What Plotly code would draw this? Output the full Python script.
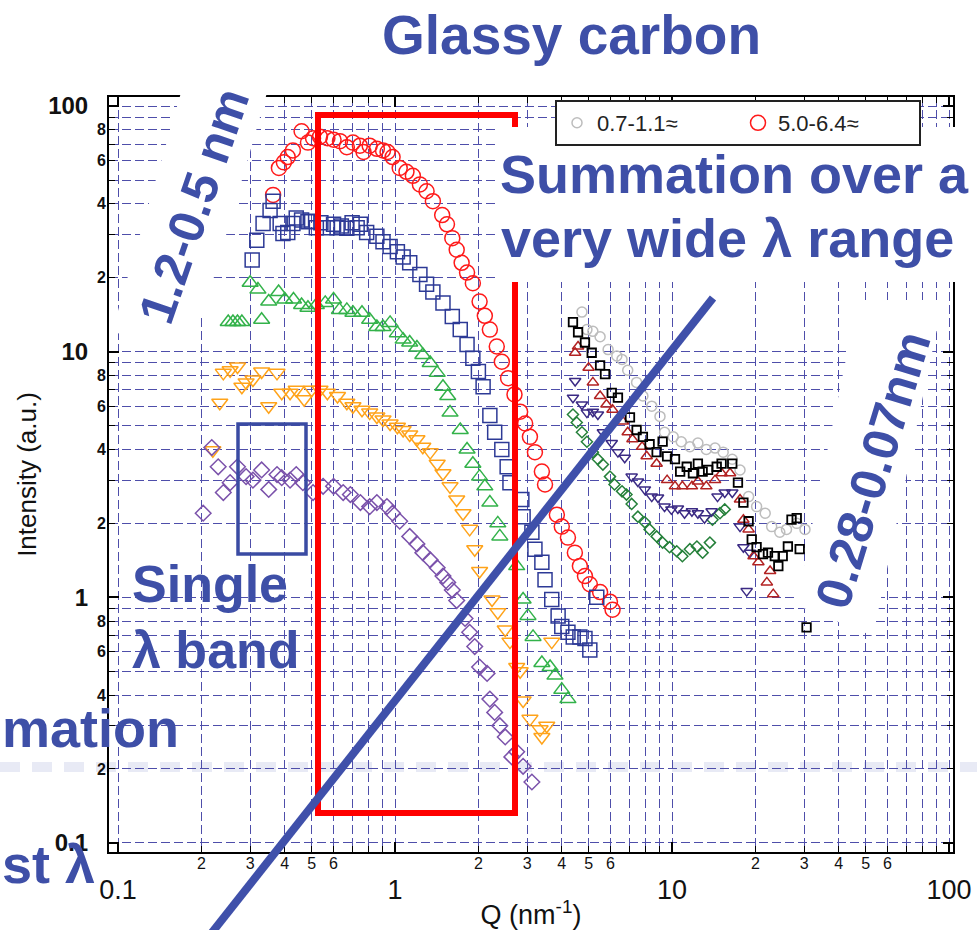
import plotly.graph_objects as go

# ---------------- data (Q in nm^-1, intensity in a.u.) ----------------
q_red = [0.363,0.381,0.397,0.41,0.428,0.46,0.485,0.506,0.536,0.57,0.6,0.633,0.67,0.705,0.747,0.77,0.81,0.86,0.905,0.94,0.98,1.04,1.1,1.16,1.23,1.3,1.37,1.48,1.54,1.61,1.67,1.74,1.82,1.91,2.02,2.11,2.2,2.33,2.43,2.56,2.7,2.83,2.95,3.07,3.2,3.39,3.48,3.84,4.0,4.21,4.46,4.65,4.85,5.05,5.5,5.97,6.1]
i_red = [43.5,56,59,62,66,79,71,74,75,74,73,72,68,71,69,65,69,67,66,65,62,56,54,52,48,45,41,36,33,29,26,23,21,19,16,14,12.3,10.5,9.1,7.8,6.7,5.7,5.1,4.5,3.9,3.25,2.88,2.17,1.94,1.75,1.52,1.34,1.22,1.13,1.05,0.96,0.89]

q_blue = [0.305,0.317,0.334,0.354,0.363,0.385,0.394,0.41,0.428,0.44,0.46,0.485,0.5,0.52,0.54,0.57,0.6,0.618,0.64,0.67,0.7,0.73,0.75,0.79,0.86,0.905,0.96,1.02,1.07,1.13,1.23,1.3,1.37,1.49,1.61,1.72,1.82,1.91,2.0,2.08,2.2,2.29,2.43,2.54,2.6,2.87,2.9,3.12,3.2,3.39,3.48,3.68,3.88,4.0,4.21,4.4,4.65,4.85,5.05,5.35]
i_blue = [23.6,28.4,33.3,37.6,41,33.3,30.3,30.6,33.3,35,34.4,33.8,34,32,33.5,32,33,32,32.5,31.8,33.5,32,33,30.6,29.5,28,26.8,25.5,24.3,23,20.6,18.8,17.5,15.8,13.9,12.3,10.7,9.4,8.3,7.2,5.5,4.7,4.0,3.4,2.93,2.5,2.13,1.84,1.57,1.39,1.18,0.98,0.84,0.76,0.72,0.69,0.69,0.68,0.61,1.0]

q_green = [0.25,0.26,0.27,0.28,0.30,0.32,0.33,0.35,0.38,0.40,0.43,0.46,0.485,0.52,0.56,0.6,0.63,0.67,0.705,0.76,0.81,0.86,0.905,0.96,1.02,1.07,1.13,1.2,1.26,1.34,1.42,1.49,1.55,1.58,1.72,1.82,1.91,2.02,2.11,2.2,2.35,2.39,2.75,2.9,3.02,3.15,3.39,3.63,3.78,4.0,4.21]
i_green = [13.2,13.2,13.2,13.2,19.1,17.9,13.5,16,17.5,16.3,16.3,15.5,15.1,15.5,15.8,16.3,14.8,14.8,14.4,14.4,13.5,12.6,12.6,13.1,11.9,11.2,10.9,10.4,9.7,9.0,8.2,7.2,6.6,5.65,4.8,4.0,3.5,3.1,2.83,2.43,2.0,1.77,1.34,0.98,0.84,0.69,0.54,0.52,0.48,0.42,0.385]

q_orange = [0.22,0.233,0.24,0.254,0.27,0.28,0.29,0.307,0.33,0.35,0.375,0.39,0.418,0.44,0.47,0.5,0.536,0.57,0.62,0.67,0.705,0.76,0.81,0.86,0.905,0.96,1.02,1.07,1.13,1.2,1.26,1.34,1.42,1.49,1.58,1.67,1.76,1.86,1.94,2.02,2.24,2.35,2.5,2.6,2.75,2.83,2.9,3.07,3.34,3.53,3.39,3.68]
i_orange = [3.97,6.2,8.2,8.4,8.7,7.2,7.5,7.7,8.3,6.0,8.2,6.8,6.8,7.0,6.4,7.0,7.0,6.8,6.6,6.2,6.0,5.8,5.65,5.45,5.3,5.1,4.95,4.8,4.6,4.4,4.1,3.9,3.5,3.2,2.83,2.5,2.2,1.9,1.57,1.28,0.98,0.87,0.74,0.66,0.52,0.5,0.38,0.32,0.29,0.3,0.27,0.66]

q_purple = [0.203,0.218,0.23,0.24,0.254,0.27,0.29,0.307,0.33,0.35,0.375,0.39,0.418,0.44,0.465,0.506,0.55,0.6,0.65,0.69,0.75,0.81,0.86,0.935,0.98,1.04,1.13,1.2,1.26,1.34,1.42,1.49,1.55,1.61,1.67,1.79,1.86,1.94,2.02,2.15,2.2,2.29,2.39,2.5,2.64,2.75,2.9,3.12]
i_purple = [2.2,4.07,3.4,2.67,2.93,3.4,3.1,3.0,3.3,2.75,3.16,3.07,3.0,3.16,2.93,2.67,2.83,2.83,2.67,2.62,2.43,2.34,2.43,2.34,2.2,2.04,1.77,1.65,1.52,1.42,1.32,1.22,1.15,1.07,0.97,0.82,0.72,0.63,0.52,0.49,0.385,0.34,0.3,0.27,0.224,0.235,0.205,0.177]

q_gray = [4.73,4.93,5.18,5.5,5.88,6.32,6.6,6.92,7.45,7.85,8.45,9.05,9.4,10.1,10.8,11.6,12.4,13.3,14.3,15.3,16.5,17.6,18.9,20.2,21.7,22.9,24.5,25.9,28.2,30.2]
i_gray = [14.5,12.3,12.1,11.5,10.2,9.6,9.3,8.4,7.5,6.6,6.0,5.45,4.7,4.5,4.3,4.1,4.25,4.0,4.05,3.9,3.65,3.3,2.57,2.34,2.2,1.94,1.84,1.89,2.0,1.89]

q_black = [4.39,4.58,4.85,5.13,5.5,5.73,6.06,6.38,7.05,7.45,7.85,8.3,8.8,9.25,9.6,10.25,10.7,11.3,11.9,12.4,12.9,13.5,14.5,15.1,16.5,17.3,18.1,18.9,19.4,20.2,21.3,22.2,23.5,24.2,25.1,26.2,27.0,28.2,28.9,30.6]
i_black = [13.2,12.0,10.9,9.9,8.8,8.1,6.8,6.5,5.4,4.8,4.5,4.2,3.9,4.3,3.75,3.65,3.25,3.4,3.2,3.5,3.25,3.3,3.4,3.5,3.5,2.93,2.43,2.04,1.72,1.6,1.5,1.52,1.47,1.34,1.47,1.61,2.07,2.1,1.57,0.755]

q_darkred = [4.47,4.58,5.0,5.18,5.5,5.8,6.1,6.65,6.92,7.2,7.8,8.1,8.8,9.6,10.25,10.9,11.8,12.4,13.3,14.3,15.1,16.2,17.6,18.1,18.9,19.7,20.5,22.0,22.6,23.2]
i_darkred = [9.9,10.5,8.6,7.5,6.6,6.1,5.8,5.2,4.7,4.4,4.1,3.75,3.5,3.0,2.83,2.83,2.83,2.96,2.83,3.0,3.2,3.2,2.5,2.07,1.89,1.47,1.39,1.15,1.28,1.03]

q_navy = [4.39,4.47,4.73,4.93,5.18,5.4,5.63,6.06,6.38,6.75,7.15,7.53,7.98,8.45,8.9,9.4,9.95,10.5,11.1,11.8,12.4,13.1,13.9,14.6,15.5,16.5,17.6,18.1,18.6,19.1]
i_navy = [6.5,7.6,6.1,5.65,5.7,5.55,4.7,4.25,3.9,3.7,3.1,2.96,2.75,2.57,2.55,2.34,2.28,2.3,2.2,2.24,2.2,2.1,2.24,2.57,2.67,2.67,1.94,1.6,1.06,1.52]

q_dgreen = [4.39,4.53,4.73,4.93,5.18,5.4,5.63,5.97,6.2,6.6,6.85,7.15,7.53,7.98,8.3,8.8,9.25,9.8,10.4,10.9,11.6,12.3,12.9,13.7,14.0,14.9,15.5]
i_dgreen = [5.55,5.15,4.7,4.3,3.9,3.65,3.47,3.1,2.88,2.7,2.62,2.4,2.13,2.02,1.89,1.77,1.67,1.6,1.54,1.47,1.57,1.61,1.52,1.67,2.07,2.2,2.28]

legend_names = ["0.7-1.1≈", "5.0-6.4≈"]

x_major = [0.1, 1, 10, 100]
x_major_text = ["0.1", "1", "10", "100"]
x_minor_labeled = [m * d for d in (0.1, 1, 10) for m in (2, 3, 4, 5, 6)]
x_minor_text = [str(m) for d in (0.1, 1, 10) for m in (2, 3, 4, 5, 6)]
y_major = [0.1, 1, 10, 100]
y_major_text = ["0.1", "1", "10", "100"]
y_minor_labeled = [m * d for d in (0.1, 1, 10) for m in (2, 4, 6, 8)]
y_minor_text = [str(m) for d in (0.1, 1, 10) for m in (2, 4, 6, 8)]
minor_all = [m * d for d in (0.1, 1, 10) for m in range(2, 10)]

# ---------------- geometry helpers (pixel -> paper) ----------------
W, H = 977, 930
L, R, T, B = 109, 953, 97, 852
def px(x):
    return (x - L) / (R - L)
def py(y):
    return (B - y) / (B - T)

FONT = "Liberation Sans, Arial, sans-serif"
SLIDE_BLUE = "#3e4fa7"
GRID = "#4e4eaa"

fig = go.Figure()

def add(q, i, name, sym, color, size, width=1.5, show=False):
    fig.add_trace(go.Scatter(
        x=q, y=i, mode="markers", name=name, showlegend=show,
        marker=dict(symbol=sym, size=size, color=color, line=dict(color=color, width=width)),
    ))

add(q_gray, i_gray, legend_names[0], "circle-open", "#bdbdbd", 10, show=True)
add(q_red, i_red, legend_names[1], "circle-open", "#ff1a1a", 15, show=True)
add(q_blue, i_blue, "blue squares", "square-open", "#2d3a96", 14)
add(q_green, i_green, "green triangles", "triangle-up-open", "#33b24a", 14)
add(q_orange, i_orange, "orange triangles", "triangle-down-open", "#ffa31a", 14)
add(q_purple, i_purple, "purple diamonds", "diamond-open", "#7b52ab", 12)
add(q_dgreen, i_dgreen, "dark green diamonds", "diamond-open", "#25803a", 8.5)
add(q_navy, i_navy, "navy triangles", "triangle-down-open", "#3b2a84", 10)
add(q_darkred, i_darkred, "dark red triangles", "triangle-up-open", "#b22222", 10)
add(q_black, i_black, "black squares", "square-open", "#000000", 8.5, width=1.8)

# helper trace for the overlaid label axes
fig.add_trace(go.Scatter(x=[None], y=[None], xaxis="x2", yaxis="y2",
                         showlegend=False, hoverinfo="skip"))

xr = [-1.0325, 2.0144]
yr = [-1.037, 2.037]

axis_common = dict(
    type="log", automargin=False, showline=True, linecolor="black", linewidth=2, mirror="ticks",
    ticks="inside", ticklen=10, tickwidth=1.5, tickcolor="black",
    showgrid=True, gridcolor=GRID, gridwidth=1.2, griddash="9px,4px", zeroline=False,
    minor=dict(tickvals=minor_all, ticks="inside", ticklen=6, tickwidth=1.2,
               tickcolor="black", showgrid=True, gridcolor=GRID, gridwidth=1.2,
               griddash="9px,4px"),
)

fig.update_layout(
    template="none",
    width=W, height=H, autosize=False,
    margin=dict(l=L, r=W - R, t=T, b=H - B, pad=0),
    paper_bgcolor="white", plot_bgcolor="rgba(0,0,0,0)",
    font=dict(family=FONT, color="#111"),
    xaxis=dict(range=xr, tickvals=x_major, ticktext=x_major_text,
               tickfont=dict(size=27, family=FONT, color="#111"), ticklabelstandoff=13,
               title=dict(text="Q (nm<sup>-1</sup>)", font=dict(size=27, family=FONT, color="#111"), standoff=6),
               **axis_common),
    yaxis=dict(range=yr, tickvals=y_major, ticktext=[f"<b>{t}</b>" for t in y_major_text],
               tickfont=dict(size=24, family=FONT, color="#111"), ticklabelstandoff=14,
               title=dict(text="Intensity (a.u.)", font=dict(size=26, family=FONT, color="#111"), standoff=4),
               **axis_common),
    xaxis2=dict(type="log", automargin=False, range=xr, overlaying="x", anchor="y2", side="bottom",
                tickvals=x_minor_labeled, ticktext=x_minor_text, ticks="",
                showline=False, showgrid=False, zeroline=False, ticklabelstandoff=0,
                tickfont=dict(size=16, family=FONT, color="#111")),
    yaxis2=dict(type="log", automargin=False, range=yr, overlaying="y", anchor="x2", side="left",
                tickvals=y_minor_labeled, ticktext=[f"<b>{t}</b>" for t in y_minor_text], ticks="",
                showline=False, showgrid=False, zeroline=False, ticklabelstandoff=2,
                tickfont=dict(size=16, family=FONT, color="#111")),
    legend=dict(orientation="h", x=px(555), y=py(100), xanchor="left", yanchor="top",
                bgcolor="white", bordercolor="#222", borderwidth=2,
                font=dict(size=22, family=FONT, color="#222"), entrywidth=136,
                itemsizing="trace"),
)

shapes = []
# faint background dashed band of the slide
shapes.append(dict(type="line", xref="paper", yref="paper", x0=px(0), x1=px(W), y0=py(767), y1=py(767),
                   line=dict(color="#e8eaf5", width=10, dash="20px,12px"), layer="below"))
# red summation window
shapes.append(dict(type="rect", xref="paper", yref="paper", x0=px(318), x1=px(515), y0=py(813), y1=py(115),
                   line=dict(color="#ff0000", width=6), layer="above"))
# blue single band window
shapes.append(dict(type="rect", xref="paper", yref="paper", x0=px(238), x1=px(306), y0=py(554), y1=py(424),
                   line=dict(color="#3a4ba3", width=3.5), layer="above"))
# diagonal line
shapes.append(dict(type="line", xref="paper", yref="paper", x0=px(210), y0=py(935), x1=px(713), y1=py(298),
                   line=dict(color="#3f50aa", width=8), layer="above"))

def poly(pts):
    s = "M " + " L ".join(f"{px(a):.5f},{py(b):.5f}" for a, b in pts) + " Z"
    return dict(type="path", xref="paper", yref="paper", path=s, fillcolor="white",
                line=dict(width=0), layer="above")

# white text backgrounds
shapes.append(poly([(495, 127), (W + 5, 127), (W + 5, 282), (495, 282)]))
shapes.append(poly([(191, 58), (277, 58), (203, 315), (111, 335)]))
shapes.append(poly([(858, 300), (943, 300), (873, 636), (796, 605)]))
fig.update_layout(shapes=shapes)

def ann(text, x, y, size, angle=0, xanchor="center", yanchor="middle"):
    fig.add_annotation(text=f"<b>{text}</b>", xref="paper", yref="paper", x=px(x), y=py(y),
                       showarrow=False, textangle=angle, xanchor=xanchor, yanchor=yanchor,
                       font=dict(family=FONT, size=size, color=SLIDE_BLUE))

ann("Glassy carbon", 571, 35, 55)
ann("Summation over a", 734, 174, 54)
ann("very wide λ range", 727, 238, 54)
ann("1.2-0.5 nm", 194, 206, 50, angle=-71)
ann("0.28-0.07nm", 873, 470, 50, angle=-73)
ann("Single", 130, 584, 52, xanchor="left")
ann("λ band", 130, 650, 52, xanchor="left")
ann("mation", 0, 728, 54, xanchor="left")
ann("st λ", 0, 864, 54, xanchor="left")

fig.write_html("out.html", config={"displayModeBar": False},
               post_script="document.body.style.margin='0';document.body.style.overflow='hidden';")
